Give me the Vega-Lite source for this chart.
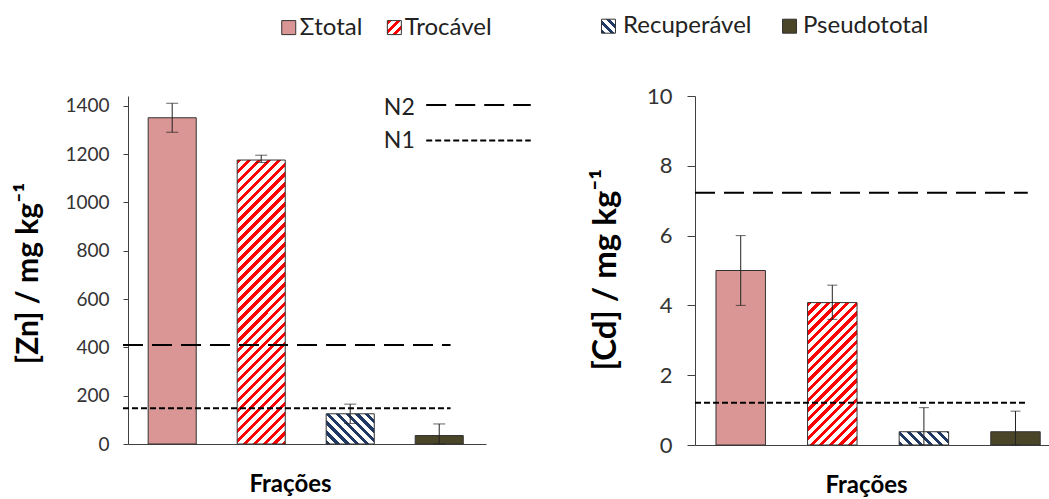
{
  "$schema": "https://vega.github.io/schema/vega-lite/v6.json",
  "padding": {"left": 13, "top": 14, "right": 0, "bottom": 0},
  "background": "white",
  "bounds": "flush",
  "spacing": 209,
  "config": {
    "view": {"stroke": null},
    "font": "Lato",
    "axis": {"grid": false, "domainColor": "#404040", "tickColor": "#404040", "labelColor": "#333333", "titleColor": "#000000", "labelFont": "Lato", "titleFont": "Lato"}
  },
  "datasets": {
    "bars": [
      {"panel": "Zn", "cat": "Σtotal", "value": 1350, "lo": 1290, "hi": 1410},
      {"panel": "Zn", "cat": "Trocável", "value": 1175, "lo": 1165, "hi": 1195},
      {"panel": "Zn", "cat": "Recuperável", "value": 125, "lo": 85, "hi": 165},
      {"panel": "Zn", "cat": "Pseudototal", "value": 35, "lo": 0, "hi": 83},
      {"panel": "Cd", "cat": "Σtotal", "value": 5.0, "lo": 4.0, "hi": 6.0},
      {"panel": "Cd", "cat": "Trocável", "value": 4.08, "lo": 3.6, "hi": 4.58},
      {"panel": "Cd", "cat": "Recuperável", "value": 0.38, "lo": 0, "hi": 1.07},
      {"panel": "Cd", "cat": "Pseudototal", "value": 0.38, "lo": 0, "hi": 0.97}
    ],
    "refs": [
      {"panel": "Zn", "level": "N2", "value": 410},
      {"panel": "Zn", "level": "N1", "value": 148},
      {"panel": "Cd", "level": "N2", "value": 7.23},
      {"panel": "Cd", "level": "N1", "value": 1.21}
    ],
    "nleg": [{"level": "N2"}, {"level": "N1"}]
  },
  "hconcat": [
    {
      "width": 358,
      "height": 348,
      "layer": [
        {
          "data": {"name": "bars"},
          "transform": [{"filter": "datum.panel === 'Zn'"}],
          "encoding": {
            "x": {"field": "cat", "type": "nominal", "sort": ["Σtotal", "Trocável", "Recuperável", "Pseudototal"],
              "scale": {"paddingInner": 0.46, "paddingOuter": 0.241, "align": 0.47},
              "axis": {"labels": false, "ticks": false, "title": "Frações", "titleFontSize": 24, "titleFontWeight": "bold", "titleX": 162, "titleY": 40, "titleBaseline": "middle"}},
            "y": {"field": "value", "type": "quantitative", "scale": {"domain": [0, 1440], "nice": false},
              "axis": {"values": [0, 100, 200, 300, 400, 500, 600, 700, 800, 900, 1000, 1100, 1200, 1300, 1400], "format": "d",
                "labelExpr": "datum.value % 200 === 0 ? datum.label : ''", "tickSize": 5, "labelFontSize": 19, "labelPadding": 14,
                "title": "[Zn] / mg kg⁻¹", "titleFontSize": 30, "titleFontWeight": "bold", "titleX": -100, "titleY": 177, "titleBaseline": "middle"}}
          },
          "layer": [
            {
              "transform": [{"filter": "datum.cat === 'Σtotal'"}],
              "mark": {"type": "bar", "stroke": "#333333", "strokeWidth": 1, "color": "#d99694"}
            },
            {
              "transform": [{"filter": "datum.cat === 'Trocável'"}],
              "mark": {"type": "bar", "stroke": "#333333", "strokeWidth": 1,
                "color": {"gradient": "linear", "x1": 0, "y1": 0, "x2": 0.1925, "y2": 1.1368, "stops": [
                        {"offset": 0, "color": "red"}, {"offset": 0.0135, "color": "red"}, {"offset": 0.0135, "color": "white"}, {"offset": 0.03, "color": "white"},
                        {"offset": 0.03, "color": "red"}, {"offset": 0.0435, "color": "red"}, {"offset": 0.0435, "color": "white"}, {"offset": 0.06, "color": "white"},
                        {"offset": 0.06, "color": "red"}, {"offset": 0.0735, "color": "red"}, {"offset": 0.0735, "color": "white"}, {"offset": 0.09, "color": "white"},
                        {"offset": 0.09, "color": "red"}, {"offset": 0.1035, "color": "red"}, {"offset": 0.1035, "color": "white"}, {"offset": 0.12, "color": "white"},
                        {"offset": 0.12, "color": "red"}, {"offset": 0.1335, "color": "red"}, {"offset": 0.1335, "color": "white"}, {"offset": 0.15, "color": "white"},
                        {"offset": 0.15, "color": "red"}, {"offset": 0.1635, "color": "red"}, {"offset": 0.1635, "color": "white"}, {"offset": 0.18, "color": "white"},
                        {"offset": 0.18, "color": "red"}, {"offset": 0.1935, "color": "red"}, {"offset": 0.1935, "color": "white"}, {"offset": 0.21, "color": "white"},
                        {"offset": 0.21, "color": "red"}, {"offset": 0.2235, "color": "red"}, {"offset": 0.2235, "color": "white"}, {"offset": 0.24, "color": "white"},
                        {"offset": 0.24, "color": "red"}, {"offset": 0.2535, "color": "red"}, {"offset": 0.2535, "color": "white"}, {"offset": 0.27, "color": "white"},
                        {"offset": 0.27, "color": "red"}, {"offset": 0.2835, "color": "red"}, {"offset": 0.2835, "color": "white"}, {"offset": 0.30, "color": "white"},
                        {"offset": 0.30, "color": "red"}, {"offset": 0.3135, "color": "red"}, {"offset": 0.3135, "color": "white"}, {"offset": 0.33, "color": "white"},
                        {"offset": 0.33, "color": "red"}, {"offset": 0.3435, "color": "red"}, {"offset": 0.3435, "color": "white"}, {"offset": 0.36, "color": "white"},
                        {"offset": 0.36, "color": "red"}, {"offset": 0.3735, "color": "red"}, {"offset": 0.3735, "color": "white"}, {"offset": 0.39, "color": "white"},
                        {"offset": 0.39, "color": "red"}, {"offset": 0.4035, "color": "red"}, {"offset": 0.4035, "color": "white"}, {"offset": 0.42, "color": "white"},
                        {"offset": 0.42, "color": "red"}, {"offset": 0.4335, "color": "red"}, {"offset": 0.4335, "color": "white"}, {"offset": 0.45, "color": "white"},
                        {"offset": 0.45, "color": "red"}, {"offset": 0.4635, "color": "red"}, {"offset": 0.4635, "color": "white"}, {"offset": 0.48, "color": "white"},
                        {"offset": 0.48, "color": "red"}, {"offset": 0.4935, "color": "red"}, {"offset": 0.4935, "color": "white"}, {"offset": 0.51, "color": "white"},
                        {"offset": 0.51, "color": "red"}, {"offset": 0.5235, "color": "red"}, {"offset": 0.5235, "color": "white"}, {"offset": 0.54, "color": "white"},
                        {"offset": 0.54, "color": "red"}, {"offset": 0.5535, "color": "red"}, {"offset": 0.5535, "color": "white"}, {"offset": 0.57, "color": "white"},
                        {"offset": 0.57, "color": "red"}, {"offset": 0.5835, "color": "red"}, {"offset": 0.5835, "color": "white"}, {"offset": 0.60, "color": "white"},
                        {"offset": 0.60, "color": "red"}, {"offset": 0.6135, "color": "red"}, {"offset": 0.6135, "color": "white"}, {"offset": 0.63, "color": "white"},
                        {"offset": 0.63, "color": "red"}, {"offset": 0.6435, "color": "red"}, {"offset": 0.6435, "color": "white"}, {"offset": 0.66, "color": "white"},
                        {"offset": 0.66, "color": "red"}, {"offset": 0.6735, "color": "red"}, {"offset": 0.6735, "color": "white"}, {"offset": 0.69, "color": "white"},
                        {"offset": 0.69, "color": "red"}, {"offset": 0.7035, "color": "red"}, {"offset": 0.7035, "color": "white"}, {"offset": 0.72, "color": "white"},
                        {"offset": 0.72, "color": "red"}, {"offset": 0.7335, "color": "red"}, {"offset": 0.7335, "color": "white"}, {"offset": 0.75, "color": "white"},
                        {"offset": 0.75, "color": "red"}, {"offset": 0.7635, "color": "red"}, {"offset": 0.7635, "color": "white"}, {"offset": 0.78, "color": "white"},
                        {"offset": 0.78, "color": "red"}, {"offset": 0.7935, "color": "red"}, {"offset": 0.7935, "color": "white"}, {"offset": 0.81, "color": "white"},
                        {"offset": 0.81, "color": "red"}, {"offset": 0.8235, "color": "red"}, {"offset": 0.8235, "color": "white"}, {"offset": 0.84, "color": "white"},
                        {"offset": 0.84, "color": "red"}, {"offset": 0.8535, "color": "red"}, {"offset": 0.8535, "color": "white"}, {"offset": 0.87, "color": "white"},
                        {"offset": 0.87, "color": "red"}, {"offset": 0.8835, "color": "red"}, {"offset": 0.8835, "color": "white"}, {"offset": 0.90, "color": "white"},
                        {"offset": 0.90, "color": "red"}, {"offset": 0.9135, "color": "red"}, {"offset": 0.9135, "color": "white"}, {"offset": 0.93, "color": "white"},
                        {"offset": 0.93, "color": "red"}, {"offset": 0.9435, "color": "red"}, {"offset": 0.9435, "color": "white"}, {"offset": 0.96, "color": "white"},
                        {"offset": 0.96, "color": "red"}, {"offset": 0.9735, "color": "red"}, {"offset": 0.9735, "color": "white"}, {"offset": 0.99, "color": "white"},
                        {"offset": 0.99, "color": "red"}, {"offset": 1, "color": "red"}
                      ]}}
            },
            {
              "transform": [{"filter": "datum.cat === 'Recuperável'"}],
              "mark": {"type": "bar", "stroke": "#333333", "strokeWidth": 1,
                "color": {"gradient": "linear", "x1": 0, "y1": 1, "x2": 1.1673, "y2": 0.2666, "stops": [
                        {"offset": 0, "color": "#1f3864"}, {"offset": 0.055, "color": "#1f3864"}, {"offset": 0.055, "color": "white"}, {"offset": 0.125, "color": "white"},
                        {"offset": 0.125, "color": "#1f3864"}, {"offset": 0.18, "color": "#1f3864"}, {"offset": 0.18, "color": "white"}, {"offset": 0.25, "color": "white"},
                        {"offset": 0.25, "color": "#1f3864"}, {"offset": 0.305, "color": "#1f3864"}, {"offset": 0.305, "color": "white"}, {"offset": 0.375, "color": "white"},
                        {"offset": 0.375, "color": "#1f3864"}, {"offset": 0.43, "color": "#1f3864"}, {"offset": 0.43, "color": "white"}, {"offset": 0.5, "color": "white"},
                        {"offset": 0.5, "color": "#1f3864"}, {"offset": 0.555, "color": "#1f3864"}, {"offset": 0.555, "color": "white"}, {"offset": 0.625, "color": "white"},
                        {"offset": 0.625, "color": "#1f3864"}, {"offset": 0.68, "color": "#1f3864"}, {"offset": 0.68, "color": "white"}, {"offset": 0.75, "color": "white"},
                        {"offset": 0.75, "color": "#1f3864"}, {"offset": 0.805, "color": "#1f3864"}, {"offset": 0.805, "color": "white"}, {"offset": 0.875, "color": "white"},
                        {"offset": 0.875, "color": "#1f3864"}, {"offset": 0.93, "color": "#1f3864"}, {"offset": 0.93, "color": "white"}, {"offset": 1, "color": "white"}
                      ]}}
            },
            {
              "transform": [{"filter": "datum.cat === 'Pseudototal'"}],
              "mark": {"type": "bar", "stroke": "#333333", "strokeWidth": 1, "color": "#4a4528"}
            },
            {"mark": {"type": "rule", "color": "#222222", "strokeWidth": 1},
              "encoding": {"y": {"field": "lo", "type": "quantitative"}, "y2": {"field": "hi"}}},
            {"mark": {"type": "tick", "color": "#222222", "thickness": 1, "size": 12},
              "encoding": {"y": {"field": "lo", "type": "quantitative"}}},
            {"mark": {"type": "tick", "color": "#222222", "thickness": 1, "size": 12},
              "encoding": {"y": {"field": "hi", "type": "quantitative"}}}
          ]
        },
        {
          "layer": [
            {
              "data": {"name": "refs"},
              "transform": [{"filter": "datum.panel === 'Zn'"}],
              "mark": {"type": "rule", "color": "#000000", "strokeWidth": 2},
              "encoding": {
                "x": {"datum": -0.014, "type": "quantitative", "scale": {"domain": [0, 1], "nice": false, "zero": false}, "axis": null},
                "x2": {"datum": 0.901},
                "y": {"field": "value", "type": "quantitative", "scale": {"domain": [0, 1440], "nice": false}},
                "strokeDash": {"field": "level", "type": "nominal", "scale": {"domain": ["N2", "N1"], "range": [[20, 9], [6, 3]]}, "legend": null}
              }
            },
            {
              "data": {"name": "nleg"},
              "transform": [{"filter": "datum.level === 'N2'"}],
              "mark": {"type": "rule", "color": "#000000", "strokeWidth": 2},
              "encoding": {
                "x": {"datum": 0.833, "type": "quantitative"},
                "x2": {"datum": 1.125},
                "y": {"datum": 1403, "type": "quantitative"},
                "strokeDash": {"field": "level", "type": "nominal", "legend": null}
              }
            },
            {
              "data": {"name": "nleg"},
              "transform": [{"filter": "datum.level === 'N1'"}],
              "mark": {"type": "rule", "color": "#000000", "strokeWidth": 2},
              "encoding": {
                "x": {"datum": 0.833, "type": "quantitative"},
                "x2": {"datum": 1.125},
                "y": {"datum": 1256, "type": "quantitative"},
                "strokeDash": {"field": "level", "type": "nominal", "legend": null}
              }
            },
            {
              "data": {"name": "nleg"},
              "transform": [{"filter": "datum.level === 'N2'"}],
              "mark": {"type": "text", "align": "right", "baseline": "middle", "fontSize": 23, "color": "#222222", "font": "Lato"},
              "encoding": {
                "x": {"datum": 0.801, "type": "quantitative"},
                "y": {"datum": 1390, "type": "quantitative"},
                "text": {"field": "level"}
              }
            },
            {
              "data": {"name": "nleg"},
              "transform": [{"filter": "datum.level === 'N1'"}],
              "mark": {"type": "text", "align": "right", "baseline": "middle", "fontSize": 23, "color": "#222222", "font": "Lato"},
              "encoding": {
                "x": {"datum": 0.801, "type": "quantitative"},
                "y": {"datum": 1254, "type": "quantitative"},
                "text": {"field": "level"}
              }
            },
            {
              "data": {"name": "bars"},
              "transform": [{"filter": "datum.panel === 'Zn' && datum.cat === 'Σtotal'"}],
              "mark": {"type": "square", "filled": true, "size": 196, "stroke": "#333333", "strokeWidth": 1, "color": "#d99694", "opacity": 1},
              "encoding": {"x": {"datum": 0.449, "type": "quantitative"}, "y": {"datum": 1723, "type": "quantitative"}}
            },
            {
              "data": {"name": "bars"},
              "transform": [{"filter": "datum.panel === 'Zn' && datum.cat === 'Trocável'"}],
              "mark": {"type": "square", "filled": true, "size": 196, "stroke": "#333333", "strokeWidth": 1, "opacity": 1,
                "color": {"gradient": "linear", "x1": 0, "y1": 0, "x2": 1, "y2": 1, "stops": [
                  {"offset": 0, "color": "red"}, {"offset": 0.15, "color": "red"}, {"offset": 0.15, "color": "white"}, {"offset": 0.333, "color": "white"},
                  {"offset": 0.333, "color": "red"}, {"offset": 0.483, "color": "red"}, {"offset": 0.483, "color": "white"}, {"offset": 0.667, "color": "white"},
                  {"offset": 0.667, "color": "red"}, {"offset": 0.817, "color": "red"}, {"offset": 0.817, "color": "white"}, {"offset": 1, "color": "white"}
                ]}},
              "encoding": {"x": {"datum": 0.744, "type": "quantitative"}, "y": {"datum": 1723, "type": "quantitative"}}
            },
            {
              "data": {"name": "bars"},
              "transform": [{"filter": "datum.panel === 'Zn' && datum.cat === 'Σtotal'"}],
              "mark": {"type": "text", "align": "left", "baseline": "middle", "fontSize": 24, "color": "#222222", "font": "Lato"},
              "encoding": {"x": {"datum": 0.4796, "type": "quantitative"}, "y": {"datum": 1723, "type": "quantitative"}, "text": {"field": "cat"}}
            },
            {
              "data": {"name": "bars"},
              "transform": [{"filter": "datum.panel === 'Zn' && datum.cat === 'Trocável'"}],
              "mark": {"type": "text", "align": "left", "baseline": "middle", "fontSize": 24, "color": "#222222", "font": "Lato"},
              "encoding": {"x": {"datum": 0.773, "type": "quantitative"}, "y": {"datum": 1723, "type": "quantitative"}, "text": {"field": "cat"}}
            }
          ]
        }
      ],
      "resolve": {"scale": {"x": "independent"}}
    },
    {
      "width": 354,
      "height": 349,
      "layer": [
        {
          "data": {"name": "bars"},
          "transform": [{"filter": "datum.panel === 'Cd'"}],
          "encoding": {
            "x": {"field": "cat", "type": "nominal", "sort": ["Σtotal", "Trocável", "Recuperável", "Pseudototal"],
              "scale": {"paddingInner": 0.46, "paddingOuter": 0.1625, "align": 0.705},
              "axis": {"labels": false, "ticks": false, "title": "Frações", "titleFontSize": 24, "titleFontWeight": "bold", "titleX": 171, "titleY": 40, "titleBaseline": "middle"}},
            "y": {"field": "value", "type": "quantitative", "scale": {"domain": [0, 10], "nice": false},
              "axis": {"values": [0, 1, 2, 3, 4, 5, 6, 7, 8, 9, 10], "format": "d",
                "labelExpr": "datum.value % 2 === 0 ? datum.label : ''", "tickSize": 8, "labelFontSize": 22, "labelPadding": 15,
                "title": "[Cd] / mg kg⁻¹", "titleFontSize": 33, "titleFontWeight": "bold", "titleX": -90, "titleY": 173, "titleBaseline": "middle"}}
          },
          "layer": [
            {
              "transform": [{"filter": "datum.cat === 'Σtotal'"}],
              "mark": {"type": "bar", "stroke": "#333333", "strokeWidth": 1, "color": "#d99694"}
            },
            {
              "transform": [{"filter": "datum.cat === 'Trocável'"}],
              "mark": {"type": "bar", "stroke": "#333333", "strokeWidth": 1,
                "color": {"gradient": "linear", "x1": 0, "y1": 0, "x2": 0.4179, "y2": 1.2023, "stops": [
                        {"offset": 0, "color": "red"}, {"offset": 0.0225, "color": "red"}, {"offset": 0.0225, "color": "white"}, {"offset": 0.05, "color": "white"},
                        {"offset": 0.05, "color": "red"}, {"offset": 0.0725, "color": "red"}, {"offset": 0.0725, "color": "white"}, {"offset": 0.1, "color": "white"},
                        {"offset": 0.1, "color": "red"}, {"offset": 0.1225, "color": "red"}, {"offset": 0.1225, "color": "white"}, {"offset": 0.15, "color": "white"},
                        {"offset": 0.15, "color": "red"}, {"offset": 0.1725, "color": "red"}, {"offset": 0.1725, "color": "white"}, {"offset": 0.2, "color": "white"},
                        {"offset": 0.2, "color": "red"}, {"offset": 0.2225, "color": "red"}, {"offset": 0.2225, "color": "white"}, {"offset": 0.25, "color": "white"},
                        {"offset": 0.25, "color": "red"}, {"offset": 0.2725, "color": "red"}, {"offset": 0.2725, "color": "white"}, {"offset": 0.3, "color": "white"},
                        {"offset": 0.3, "color": "red"}, {"offset": 0.3225, "color": "red"}, {"offset": 0.3225, "color": "white"}, {"offset": 0.35, "color": "white"},
                        {"offset": 0.35, "color": "red"}, {"offset": 0.3725, "color": "red"}, {"offset": 0.3725, "color": "white"}, {"offset": 0.4, "color": "white"},
                        {"offset": 0.4, "color": "red"}, {"offset": 0.4225, "color": "red"}, {"offset": 0.4225, "color": "white"}, {"offset": 0.45, "color": "white"},
                        {"offset": 0.45, "color": "red"}, {"offset": 0.4725, "color": "red"}, {"offset": 0.4725, "color": "white"}, {"offset": 0.5, "color": "white"},
                        {"offset": 0.5, "color": "red"}, {"offset": 0.5225, "color": "red"}, {"offset": 0.5225, "color": "white"}, {"offset": 0.55, "color": "white"},
                        {"offset": 0.55, "color": "red"}, {"offset": 0.5725, "color": "red"}, {"offset": 0.5725, "color": "white"}, {"offset": 0.6, "color": "white"},
                        {"offset": 0.6, "color": "red"}, {"offset": 0.6225, "color": "red"}, {"offset": 0.6225, "color": "white"}, {"offset": 0.65, "color": "white"},
                        {"offset": 0.65, "color": "red"}, {"offset": 0.6725, "color": "red"}, {"offset": 0.6725, "color": "white"}, {"offset": 0.7, "color": "white"},
                        {"offset": 0.7, "color": "red"}, {"offset": 0.7225, "color": "red"}, {"offset": 0.7225, "color": "white"}, {"offset": 0.75, "color": "white"},
                        {"offset": 0.75, "color": "red"}, {"offset": 0.7725, "color": "red"}, {"offset": 0.7725, "color": "white"}, {"offset": 0.8, "color": "white"},
                        {"offset": 0.8, "color": "red"}, {"offset": 0.8225, "color": "red"}, {"offset": 0.8225, "color": "white"}, {"offset": 0.85, "color": "white"},
                        {"offset": 0.85, "color": "red"}, {"offset": 0.8725, "color": "red"}, {"offset": 0.8725, "color": "white"}, {"offset": 0.9, "color": "white"},
                        {"offset": 0.9, "color": "red"}, {"offset": 0.9225, "color": "red"}, {"offset": 0.9225, "color": "white"}, {"offset": 0.95, "color": "white"},
                        {"offset": 0.95, "color": "red"}, {"offset": 0.9725, "color": "red"}, {"offset": 0.9725, "color": "white"}, {"offset": 1, "color": "white"}
                      ]}}
            },
            {
              "transform": [{"filter": "datum.cat === 'Recuperável'"}],
              "mark": {"type": "bar", "stroke": "#333333", "strokeWidth": 1,
                "color": {"gradient": "linear", "x1": 0, "y1": 1, "x2": 1.183, "y2": 0.682, "stops": [
                        {"offset": 0, "color": "#1f3864"}, {"offset": 0.07, "color": "#1f3864"}, {"offset": 0.07, "color": "white"}, {"offset": 0.16, "color": "white"},
                        {"offset": 0.16, "color": "#1f3864"}, {"offset": 0.23, "color": "#1f3864"}, {"offset": 0.23, "color": "white"}, {"offset": 0.32, "color": "white"},
                        {"offset": 0.32, "color": "#1f3864"}, {"offset": 0.39, "color": "#1f3864"}, {"offset": 0.39, "color": "white"}, {"offset": 0.48, "color": "white"},
                        {"offset": 0.48, "color": "#1f3864"}, {"offset": 0.55, "color": "#1f3864"}, {"offset": 0.55, "color": "white"}, {"offset": 0.64, "color": "white"},
                        {"offset": 0.64, "color": "#1f3864"}, {"offset": 0.71, "color": "#1f3864"}, {"offset": 0.71, "color": "white"}, {"offset": 0.8, "color": "white"},
                        {"offset": 0.8, "color": "#1f3864"}, {"offset": 0.87, "color": "#1f3864"}, {"offset": 0.87, "color": "white"}, {"offset": 0.96, "color": "white"},
                        {"offset": 0.96, "color": "#1f3864"}, {"offset": 1, "color": "#1f3864"}
                      ]}}
            },
            {
              "transform": [{"filter": "datum.cat === 'Pseudototal'"}],
              "mark": {"type": "bar", "stroke": "#333333", "strokeWidth": 1, "color": "#4a4528"}
            },
            {"mark": {"type": "rule", "color": "#222222", "strokeWidth": 1},
              "encoding": {"y": {"field": "lo", "type": "quantitative"}, "y2": {"field": "hi"}}},
            {"mark": {"type": "tick", "color": "#222222", "thickness": 1, "size": 10},
              "encoding": {"y": {"field": "lo", "type": "quantitative"}}},
            {"mark": {"type": "tick", "color": "#222222", "thickness": 1, "size": 10},
              "encoding": {"y": {"field": "hi", "type": "quantitative"}}}
          ]
        },
        {
          "layer": [
            {
              "data": {"name": "refs"},
              "transform": [{"filter": "datum.panel === 'Cd'"}],
              "mark": {"type": "rule", "color": "#000000", "strokeWidth": 2},
              "encoding": {
                "x": {"datum": 0, "type": "quantitative", "scale": {"domain": [0, 1], "nice": false, "zero": false}, "axis": null},
                "x2": {"datum": 0.94},
                "y": {"field": "value", "type": "quantitative", "scale": {"domain": [0, 10], "nice": false}},
                "strokeDash": {"field": "level", "type": "nominal", "scale": {"domain": ["N2", "N1"], "range": [[20, 9], [6, 3]]}, "legend": null}
              }
            },
            {
              "data": {"name": "bars"},
              "transform": [{"filter": "datum.panel === 'Cd' && datum.cat === 'Recuperável'"}],
              "mark": {"type": "square", "filled": true, "size": 196, "stroke": "#333333", "strokeWidth": 1, "opacity": 1,
                "color": {"gradient": "linear", "x1": 0, "y1": 1, "x2": 1, "y2": 0, "stops": [
                  {"offset": 0, "color": "#1f3864"}, {"offset": 0.14, "color": "#1f3864"}, {"offset": 0.14, "color": "white"}, {"offset": 0.333, "color": "white"},
                  {"offset": 0.333, "color": "#1f3864"}, {"offset": 0.473, "color": "#1f3864"}, {"offset": 0.473, "color": "white"}, {"offset": 0.667, "color": "white"},
                  {"offset": 0.667, "color": "#1f3864"}, {"offset": 0.807, "color": "#1f3864"}, {"offset": 0.807, "color": "white"}, {"offset": 1, "color": "white"}
                ]}},
              "encoding": {"x": {"datum": -0.2444, "type": "quantitative"}, "y": {"datum": 12.0, "type": "quantitative"}}
            },
            {
              "data": {"name": "bars"},
              "transform": [{"filter": "datum.panel === 'Cd' && datum.cat === 'Pseudototal'"}],
              "mark": {"type": "square", "filled": true, "size": 196, "stroke": "#333333", "strokeWidth": 1, "color": "#4a4528", "opacity": 1},
              "encoding": {"x": {"datum": 0.267, "type": "quantitative"}, "y": {"datum": 12.0, "type": "quantitative"}}
            },
            {
              "data": {"name": "bars"},
              "transform": [{"filter": "datum.panel === 'Cd' && datum.cat === 'Recuperável'"}],
              "mark": {"type": "text", "align": "left", "baseline": "middle", "fontSize": 24, "color": "#222222", "font": "Lato"},
              "encoding": {"x": {"datum": -0.2034, "type": "quantitative"}, "y": {"datum": 12.0, "type": "quantitative"}, "text": {"field": "cat"}}
            },
            {
              "data": {"name": "bars"},
              "transform": [{"filter": "datum.panel === 'Cd' && datum.cat === 'Pseudototal'"}],
              "mark": {"type": "text", "align": "left", "baseline": "middle", "fontSize": 24, "color": "#222222", "font": "Lato"},
              "encoding": {"x": {"datum": 0.305, "type": "quantitative"}, "y": {"datum": 12.0, "type": "quantitative"}, "text": {"field": "cat"}}
            }
          ]
        }
      ],
      "resolve": {"scale": {"x": "independent"}}
    }
  ],
  "resolve": {"scale": {"y": "independent", "x": "independent", "strokeDash": "independent"}}
}
